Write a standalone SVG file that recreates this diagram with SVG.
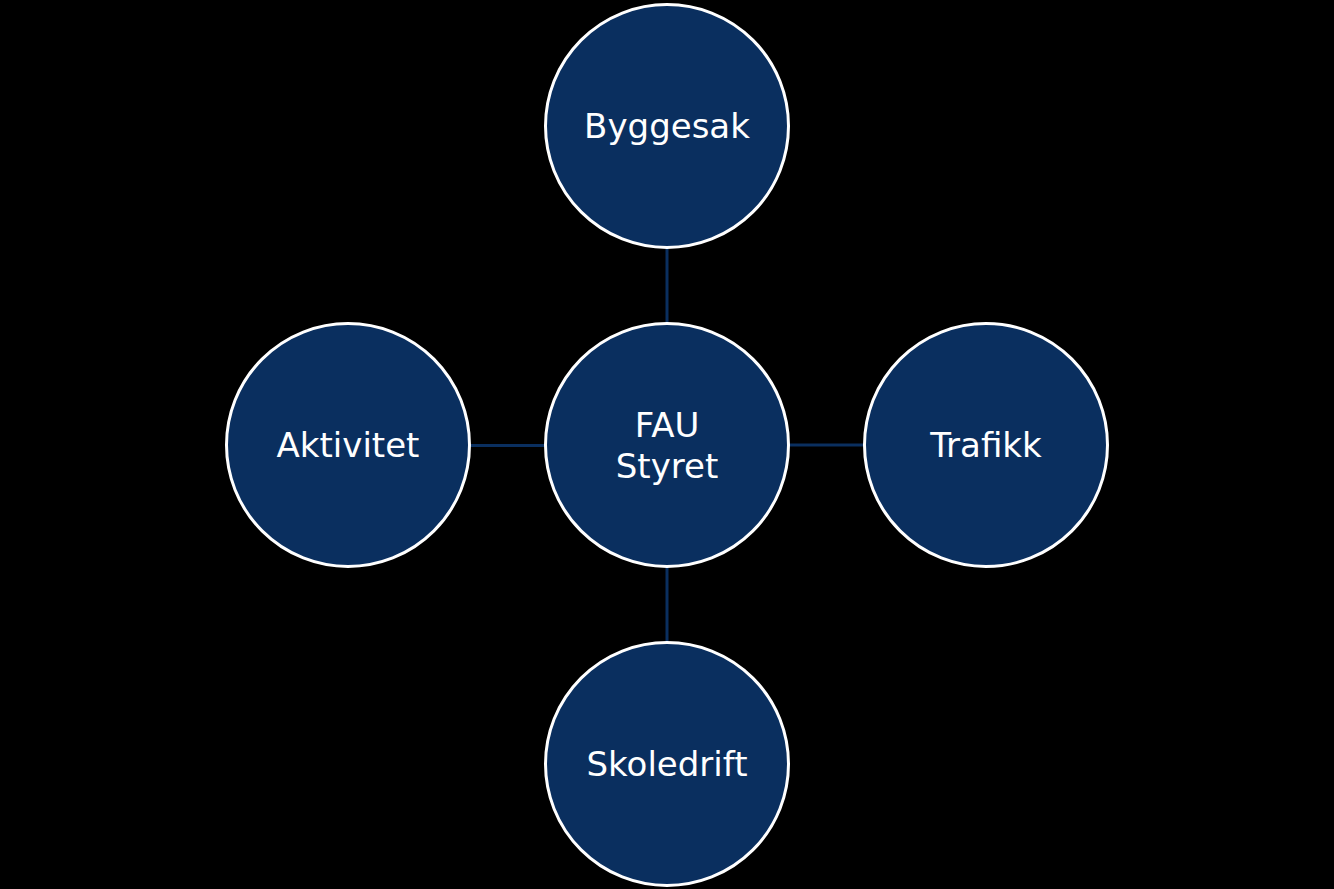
<svg xmlns="http://www.w3.org/2000/svg" width="1334" height="889" viewBox="0 0 1334 889">
<style>
.n{fill:#0a2f5f;stroke:#ffffff;stroke-width:3}
.t{fill:#ffffff;font-family:"DejaVu Sans",sans-serif;font-size:34px;text-anchor:middle}
.c{stroke:#0a2f5f;stroke-width:3;fill:none}
</style>
<rect width="1334" height="889" fill="#000000"/>
<g id="connectors">
<line class="c" x1="667" y1="248" x2="667" y2="323"/>
<line class="c" x1="470" y1="445.5" x2="546" y2="445.5"/>
<line class="c" x1="788" y1="445" x2="864" y2="445"/>
<line class="c" x1="667" y1="567" x2="667" y2="642"/>
</g>
<g id="center"><circle class="n" cx="667" cy="445" r="121.5"/><text class="t" x="667" y="437">FAU</text><text class="t" x="667" y="478">Styret</text></g>
<g id="byggesak"><circle class="n" cx="667" cy="126" r="121.5"/><text class="t" x="667" y="138">Byggesak</text></g>
<g id="aktivitet"><circle class="n" cx="348" cy="445" r="121.5"/><text class="t" x="348" y="457">Aktivitet</text></g>
<g id="trafikk"><circle class="n" cx="986" cy="445" r="121.5"/><text class="t" x="986" y="457">Trafikk</text></g>
<g id="skoledrift"><circle class="n" cx="667" cy="764" r="121.5"/><text class="t" x="667" y="776">Skoledrift</text></g>
</svg>
